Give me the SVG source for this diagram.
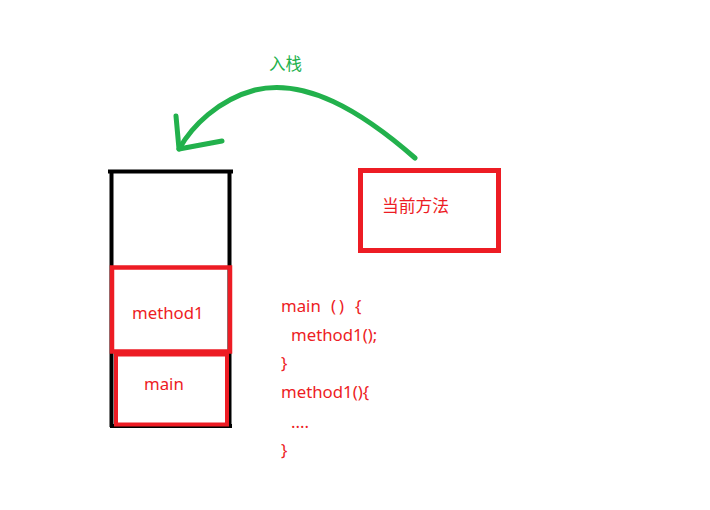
<svg xmlns="http://www.w3.org/2000/svg" width="710" height="510" viewBox="0 0 710 510">
<style>
.red{fill:none;stroke:#ED1C24;}
.t{font-family:"Noto Sans","Noto Sans CJK SC",sans-serif;font-size:16.8px;fill:#ED1C24;}
.g{fill:none;stroke:#22B14C;stroke-width:5;stroke-linecap:round;stroke-linejoin:round;}
</style>
<rect width="710" height="510" fill="#fff"/>
<g id="stack">
<path d="M108,171.5 H233 M111.5,171 V427 M229.5,171 V427 M110,426 H232" fill="none" stroke="#000" stroke-width="4"/>
</g>
<g id="method1">
<rect class="red" x="112" y="267.5" width="118" height="84" stroke-width="4.5"/>
<text class="t" x="132" y="319">method1</text>
</g>
<g id="main">
<rect class="red" x="116" y="354.5" width="111" height="70" stroke-width="4"/>
<text class="t" x="144" y="390">main</text>
</g>
<g id="current">
<rect class="red" x="360.5" y="170.5" width="138" height="80" stroke-width="5"/>
<text class="t" x="382" y="212">当前方法</text>
</g>
<g id="code" class="t">
<text x="281" y="312">main</text><text x="331" y="312">(</text><text x="339" y="312">)</text><text x="355" y="312">{</text>
<text x="291" y="341">method1();</text>
<text x="281" y="369">}</text>
<text x="281" y="398">method1(){</text>
<text x="291" y="428">....</text>
<text x="281" y="456">}</text>
</g>
<g id="connectors">
<path class="g" d="M415,158 C360,110 305,78 255,90 C218,100 192,126 179,149"/>
<path class="g" d="M176,116 L179,149 L222,141"/>
<text x="269" y="70" font-family="Noto Sans CJK SC,sans-serif" font-size="16.5" fill="#22B14C">入栈</text>
</g>
</svg>
